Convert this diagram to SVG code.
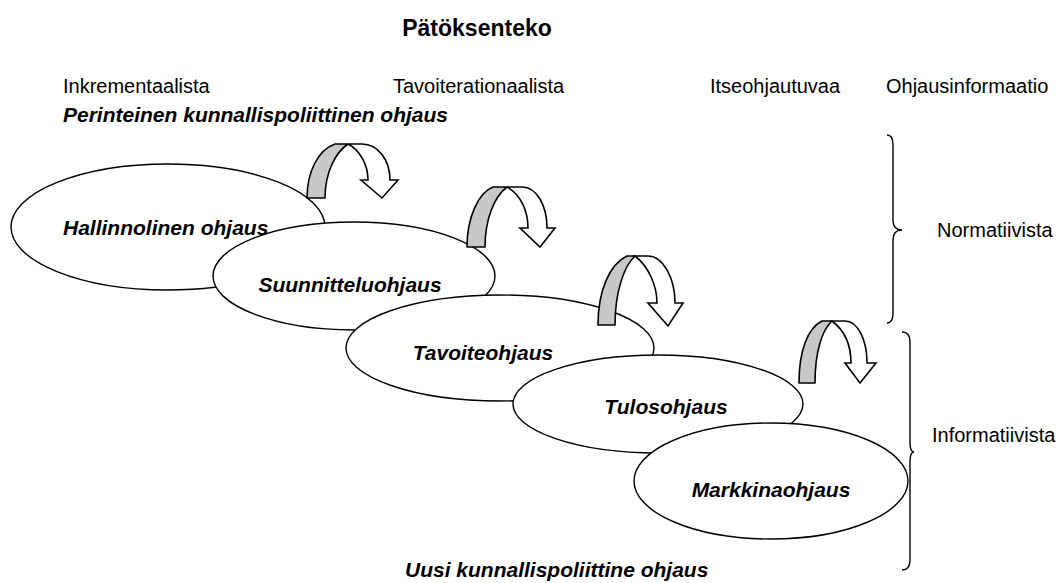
<svg xmlns="http://www.w3.org/2000/svg" width="1061" height="583" viewBox="0 0 1061 583">
<style>
text{font-family:"Liberation Sans",Arial,sans-serif;fill:#000}
.t{font-size:20px}
.bi{font-size:21px;font-weight:bold;font-style:italic}
.title{font-size:23px;font-weight:bold}
.el{fill:#fff;stroke:#000;stroke-width:1.4}
.g{fill:#c8c8c8;stroke:#000;stroke-width:1.6;stroke-linejoin:round}
.w{fill:#fff;stroke:#000;stroke-width:1.6;stroke-linejoin:miter}
.br{fill:none;stroke:#000;stroke-width:1.4}
</style>
<rect width="1061" height="583" fill="#fff"/>
<text class="title" x="477" y="36" text-anchor="middle">Pätöksenteko</text>
<text class="t" x="63" y="93">Inkrementaalista</text>
<text class="t" x="393" y="93">Tavoiterationaalista</text>
<text class="t" x="710" y="93">Itseohjautuvaa</text>
<text class="t" x="886" y="93">Ohjausinformaatio</text>
<text class="bi" x="63" y="122">Perinteinen kunnallispoliittinen ohjaus</text>

<g id="node-hallinnolinen">
<ellipse class="el" cx="168" cy="227" rx="157" ry="63"/>
</g>
<g id="node-suunnittelu">
<ellipse class="el" cx="354" cy="276" rx="141" ry="54"/>
</g>
<g id="node-tavoite">
<ellipse class="el" cx="500" cy="348" rx="154" ry="53"/>
</g>
<g id="node-tulos">
<ellipse class="el" cx="658" cy="404" rx="145" ry="49"/>
</g>
<g id="node-markkina">
<ellipse class="el" cx="771" cy="481" rx="137" ry="58"/>
</g>
<text class="bi" x="63" y="235">Hallinnolinen ohjaus</text>
<text class="bi" x="350" y="292" text-anchor="middle">Suunnitteluohjaus</text>
<text class="bi" x="483" y="360" text-anchor="middle">Tavoiteohjaus</text>
<text class="bi" x="666" y="414" text-anchor="middle">Tulosohjaus</text>
<text class="bi" x="771" y="497" text-anchor="middle">Markkinaohjaus</text>

<g id="connectors">
<path class="g" d="M307,198 C307,172 318,150 335,144 L348,144 C336,152 325,172 325,198 Z"/>
<path class="w" d="M348,144 C360,150 368,165 368,180 L361,180 L382,198 L398,180 L390,180 C390,160 378,144 362,144 Z"/>
<path class="g" d="M467,247 C467,218 478,193 493,187 L507,187 C495,196 485,218 485,247 Z"/>
<path class="w" d="M507,187 C520,194 528,210 528,228 L520,228 L540,247 L555,228 L547,228 C547,206 537,187 522,187 Z"/>
<path class="g" d="M598,325 C598,290 610,264 627,256 L635,256 C624,266 615,292 615,325 Z"/>
<path class="w" d="M635,256 C648,266 657,285 657,303 L648,303 L668,326 L683,303 L675,303 C675,278 663,256 648,256 Z"/>
<path class="g" d="M799,383 C799,350 808,328 822,321 L832,321 C822,330 815,352 815,383 Z"/>
<path class="w" d="M832,321 C844,330 851,345 851,363 L845,363 L860,383 L876,363 L867,363 C867,340 858,321 845,321 Z"/>
</g>

<path class="br" d="M887,135 Q893,135 893,145 L893,220 Q893,230 902,230 Q893,230 893,240 L893,313 Q893,323 887,323"/>
<path class="br" d="M902,332 Q910,332 910,342 L910,442 Q910,452 914,452 Q910,452 910,462 L910,560 Q910,570 902,570"/>
<text class="t" x="937" y="237">Normatiivista</text>
<text class="t" x="932" y="442">Informatiivista</text>
<text class="bi" x="405" y="577">Uusi kunnallispoliittine ohjaus</text>
</svg>
